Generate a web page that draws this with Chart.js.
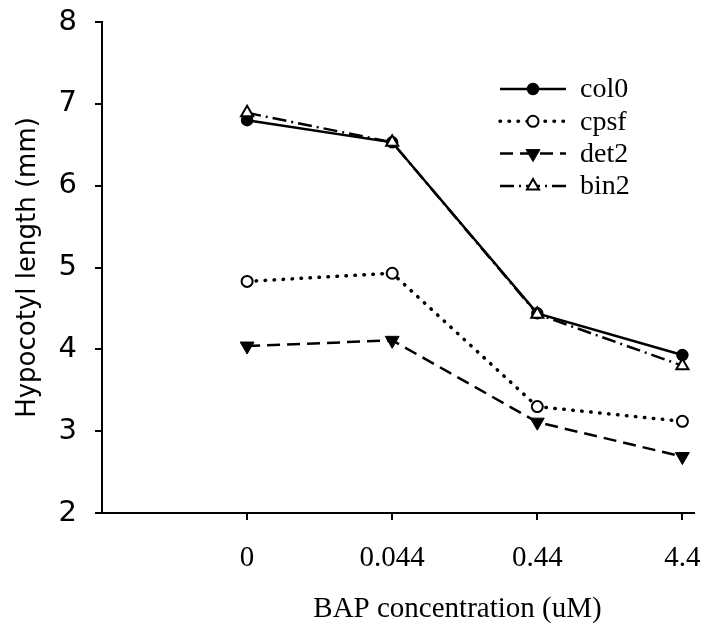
<!DOCTYPE html>
<html>
<head>
<meta charset="utf-8">
<script src="https://cdn.jsdelivr.net/npm/chart.js@4.4.1/dist/chart.umd.min.js"></script>
<style>
  body { margin: 0; background: white; }
  #wrap { width: 715px; height: 627px; }
</style>
</head>
<body>
<div id="wrap"><canvas id="hypocotyl" width="715" height="627"></canvas></div>
<script>
const doses = ['0', '0.044', '0.44', '4.4'];
const col0 = [6.80, 6.53, 4.44, 3.93];
const cpsf = [4.83, 4.93, 3.30, 3.12];
const det2 = [4.04, 4.11, 3.11, 2.69];
const bin2 = [6.89, 6.53, 4.43, 3.80];
const yTicks = [2, 3, 4, 5, 6, 7, 8];

const toPoints = arr => arr.map((v, i) => ({ x: i, y: v }));

// marker used both on the lines and in the legend
function marker(ctx, style, r, rot, x, y) {
  ctx.beginPath();
  if (style === 'circle') {
    ctx.arc(x, y, r, 0, Math.PI * 2);
  } else {
    const a0 = (rot || 0) * Math.PI / 180;
    for (let k = 0; k < 3; k++) {
      const a = a0 + k * 2 * Math.PI / 3;
      const px = x + Math.sin(a) * r, py = y - Math.cos(a) * r;
      if (k === 0) ctx.moveTo(px, py); else ctx.lineTo(px, py);
    }
    ctx.closePath();
  }
  ctx.fill();
  ctx.stroke();
}

const lineLegend = {
  id: 'lineLegend',
  afterDraw(chart) {
    const { ctx, chartArea } = chart;
    const x0 = chartArea.right - 194;
    let y = chartArea.top + 67;
    chart.data.datasets.forEach(ds => {
      ctx.save();
      ctx.strokeStyle = ds.borderColor;
      ctx.lineWidth = ds.borderWidth;
      ctx.lineCap = ds.borderCapStyle || 'butt';
      ctx.setLineDash(ds.borderDash || []);
      ctx.beginPath();
      ctx.moveTo(x0, y);
      ctx.lineTo(x0 + 66, y);
      ctx.stroke();
      ctx.setLineDash([]);
      ctx.fillStyle = ds.pointBackgroundColor;
      ctx.strokeStyle = ds.pointBorderColor;
      ctx.lineWidth = ds.pointBorderWidth;
      marker(ctx, ds.pointStyle, ds.pointRadius, ds.pointRotation, x0 + 33, y);
      ctx.fillStyle = 'black';
      ctx.font = '28px "Liberation Serif"';
      ctx.textBaseline = 'middle';
      ctx.textAlign = 'left';
      ctx.fillText(ds.label, x0 + 80, y + 1);
      ctx.restore();
      y += 32.3;
    });
  }
};

const xTitle = {
  id: 'xTitle',
  afterDraw(chart) {
    const { ctx } = chart;
    const xs = chart.scales.x;
    ctx.save();
    ctx.fillStyle = 'black';
    ctx.font = '29px "Liberation Serif"';
    ctx.textAlign = 'center';
    ctx.textBaseline = 'alphabetic';
    ctx.fillText('BAP concentration (uM)', xs.getPixelForValue(1.45), 617);
    ctx.restore();
  }
};

const ctx = document.getElementById('hypocotyl').getContext('2d');
new Chart(ctx, {
  type: 'line',
  data: {
    datasets: [
      {
        label: 'col0', data: toPoints(col0), order: 4,
        borderColor: 'black', borderWidth: 2.5,
        pointStyle: 'circle', pointRadius: 5.5, pointBorderWidth: 1.5,
        pointBackgroundColor: 'black', pointBorderColor: 'black'
      },
      {
        label: 'cpsf', data: toPoints(cpsf), order: 3,
        borderColor: 'black', borderWidth: 3.5, borderDash: [0.5, 8.5], borderCapStyle: 'round',
        pointStyle: 'circle', pointRadius: 5.5, pointBorderWidth: 2,
        pointBackgroundColor: 'white', pointBorderColor: 'black'
      },
      {
        label: 'det2', data: toPoints(det2), order: 2,
        borderColor: 'black', borderWidth: 2.5, borderDash: [13, 7],
        pointStyle: 'triangle', pointRotation: 180, pointRadius: 8, pointBorderWidth: 1,
        pointBackgroundColor: 'black', pointBorderColor: 'black'
      },
      {
        label: 'bin2', data: toPoints(bin2), order: 1,
        borderColor: 'black', borderWidth: 2.5, borderDash: [14, 5, 2, 5],
        pointStyle: 'triangle', pointRadius: 7, pointBorderWidth: 2,
        pointBackgroundColor: 'white', pointBorderColor: 'black'
      }
    ]
  },
  options: {
    responsive: false,
    animation: false,
    layout: { padding: { left: 10, top: 22, right: 21, bottom: 0 } },
    plugins: {
      legend: { display: false },
      tooltip: { enabled: false }
    },
    elements: { line: { tension: 0 } },
    scales: {
      x: {
        type: 'linear',
        min: -1,
        max: 3.08,
        afterBuildTicks: scale => { scale.ticks = doses.map((_, i) => ({ value: i })); },
        afterFit: scale => {
          scale.height = 114;
          scale.paddingLeft = 0;
          scale.paddingRight = 0;
        },
        border: { display: true, color: 'black', width: 2 },
        grid: { display: true, drawOnChartArea: false, drawTicks: true, tickLength: 7, color: 'black', lineWidth: 2 },
        ticks: {
          color: 'black',
          padding: 21,
          maxRotation: 0,
          autoSkip: false,
          font: { family: '"Liberation Serif"', size: 29 },
          callback: v => doses[v] ?? ''
        }
      },
      y: {
        min: 2,
        max: 8,
        afterBuildTicks: scale => { scale.ticks = yTicks.map(v => ({ value: v })); },
        afterFit: scale => {
          scale.width = 92;
          scale.paddingTop = 0;
          scale.paddingBottom = 0;
        },
        border: { display: true, color: 'black', width: 2 },
        grid: { display: true, drawOnChartArea: false, drawTicks: true, tickLength: 7, color: 'black', lineWidth: 2 },
        ticks: {
          color: 'black',
          padding: 18,
          font: { family: '"DejaVu Sans"', size: 29 }
        },
        title: {
          display: true,
          text: 'Hypocotyl length (mm)',
          color: 'black',
          padding: { top: 3, bottom: 0 },
          font: { family: '"DejaVu Sans"', size: 26 }
        }
      }
    }
  },
  plugins: [lineLegend, xTitle]
});
</script>
</body>
</html>
